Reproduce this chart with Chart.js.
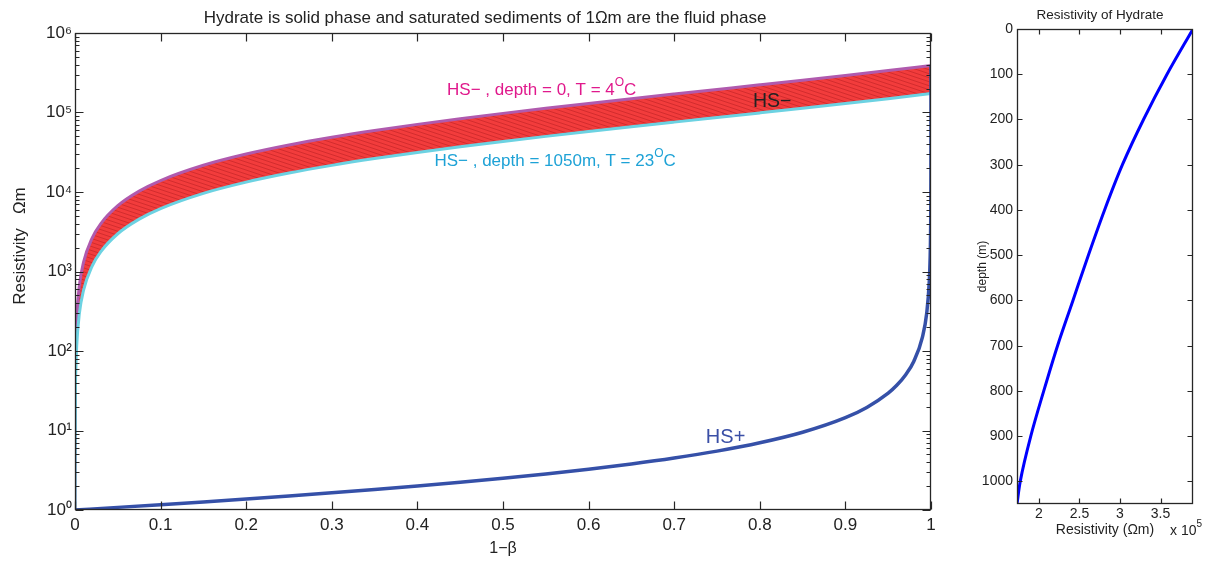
<!DOCTYPE html>
<html><head><meta charset="utf-8">
<script src="https://cdn.jsdelivr.net/npm/chart.js@4.4.1/dist/chart.umd.min.js"></script>
<style>
html,body{margin:0;padding:0;background:#fff;width:1211px;height:563px;overflow:hidden}
#w1{position:absolute;left:0;top:0;width:960px;height:563px}
#w2{position:absolute;left:960px;top:0;width:251px;height:563px}
</style></head><body>
<div id="w1"><canvas id="c1"></canvas></div>
<div id="w2"><canvas id="c2"></canvas></div>
<script>
// ---------------- data ----------------
const hydrateFraction = [0,0.0005,0.001,0.002,0.005,0.01,0.02,0.03,0.05,0.075,0.1,0.15,0.2,0.25,0.3,0.35,0.4,0.45,0.5,0.55,0.6,0.65,0.7,0.75,0.8,0.85,0.9,0.95,1];
const hsMinusSurface = [1,66,131,261,653,1310,2636,3981,6725,10264,13930,21668,30001,39001,48751,59349,70910,83573,97502,112896,130002,149119,170627,195002,222859,255002,292503,336821,390000];
const hsMinusDeep = [1,29.8,58.7,116.5,290.3,581.5,1170,1766,2984,4554,6180,9612,13309,17301,21626,26327,31456,37073,43252,50081,57668,66149,75689,86502,98859,113118,129753,149412,173000];
const hsPlusFraction = [0,0.05,0.1,0.15,0.2,0.25,0.3,0.35,0.4,0.45,0.5,0.55,0.6,0.65,0.7,0.75,0.8,0.85,0.9,0.925,0.95,0.96,0.97,0.98,0.99,0.995,0.998,0.999,0.9995,0.9999,0.99999,1];
const hsPlusValues = [1,1.079,1.167,1.265,1.375,1.5,1.643,1.808,2.0,2.227,2.5,2.833,3.25,3.786,4.5,5.5,7.0,9.5,14.5,19.5,29.5,37,49.5,74.5,149.5,299.5,749.5,1494,2977,14436,108300,390000];
const depthM = [0,100,200,300,400,500,600,700,800,900,1000,1050];
const hydrateResistivity = [390000,358000,329000,303000,281000,261000,242000,223000,206000,190000,177000,173000];

const yDecades = [1,10,100,1000,10000,100000,1000000];
const xTicksLeft = [0,0.1,0.2,0.3,0.4,0.5,0.6,0.7,0.8,0.9,1];
const depthTicks = [0,100,200,300,400,500,600,700,800,900,1000];
const resTicks = [200000,250000,300000,350000];

// ---------------- helpers ----------------
const FONT = "'Liberation Sans', Arial, Helvetica, sans-serif";
const SUP = ['⁰','¹','²','³','⁴','⁵','⁶','⁷','⁸','⁹'];
const AX = '#262626';

function pts(xs, ys){ return xs.map((x,i)=>({x:x, y:ys[i]})); }

function hatch(){
  const c = document.createElement('canvas');
  const W = 12, H = 4;
  c.width = W; c.height = H;
  const g = c.getContext('2d');
  g.fillStyle = '#f23c3c'; g.fillRect(0,0,W,H);
  g.strokeStyle = 'rgba(150,15,20,0.38)'; g.lineWidth = 0.9;
  for (let k=-3;k<=3;k++){
    g.beginPath(); g.moveTo(-W, -H + k*H); g.lineTo(2*W, 2*H + k*H); g.stroke();
  }
  return g.createPattern(c,'repeat');
}

function drawParts(ctx, x, y, parts, size, color, align){
  const big = size + 'px ' + FONT, small = Math.round(size*0.7) + 'px ' + FONT;
  let total = 0;
  parts.forEach(p=>{ ctx.font = p.sup ? small : big; p.w = ctx.measureText(p.t).width; total += p.w; });
  let cx = align === 'center' ? x - total/2 : x;
  ctx.fillStyle = color; ctx.textAlign = 'left'; ctx.textBaseline = 'alphabetic';
  parts.forEach(p=>{ ctx.font = p.sup ? small : big; ctx.fillText(p.t, cx, p.sup ? y - size*0.55 : y); cx += p.w; });
}

function isDecade(v){ const l = Math.log10(v); return Math.abs(l - Math.round(l)) < 1e-9; }

const frameTicks = {
  id: 'frameTicks',
  afterDraw(chart){
    const {ctx, chartArea: a} = chart;
    const xs = chart.scales.x, ys = chart.scales.y;
    const L = Math.round(a.left)+0.5, R = Math.round(a.right)-0.5, T = Math.round(a.top)+0.5, B = Math.round(a.bottom)-0.5;
    ctx.save();
    ctx.strokeStyle = AX; ctx.lineWidth = 1.2;
    ctx.beginPath();
    const big = chart.options.plugins.frameTicks.major, small = chart.options.plugins.frameTicks.minor;
    xs.ticks.forEach(t=>{
      const p = Math.round(xs.getPixelForValue(t.value))+0.5;
      ctx.moveTo(p, B); ctx.lineTo(p, B - big);
      ctx.moveTo(p, T); ctx.lineTo(p, T + big);
    });
    ys.ticks.forEach(t=>{
      const len = (ys.type === 'logarithmic' && !isDecade(t.value)) ? small : big;
      const p = Math.round(ys.getPixelForValue(t.value))+0.5;
      ctx.moveTo(L, p); ctx.lineTo(L + len, p);
      ctx.moveTo(R, p); ctx.lineTo(R - len, p);
    });
    ctx.stroke();
    ctx.lineWidth = 1.3;
    ctx.strokeRect(L, T, R - L, B - T);
    ctx.restore();
  }
};

// ---------------- left chart ----------------
const leftText = {
  id: 'leftText',
  afterDatasetsDraw(chart){
    const {ctx} = chart; const xs = chart.scales.x, ys = chart.scales.y;
    ctx.save();
    drawParts(ctx, xs.getPixelForValue(0.4346), ys.getPixelForValue(1.65e5),
      [{t:'HS− , depth = 0, T = 4'},{t:'O',sup:true},{t:'C'}], 17, '#e0198c', 'left');
    drawParts(ctx, xs.getPixelForValue(0.4199), ys.getPixelForValue(2.1e4),
      [{t:'HS− , depth = 1050m, T = 23'},{t:'O',sup:true},{t:'C'}], 17, '#1ea2d6', 'left');
    drawParts(ctx, xs.getPixelForValue(0.792), ys.getPixelForValue(1.17e5),
      [{t:'HS−'}], 19.5, '#222222', 'left');
    drawParts(ctx, xs.getPixelForValue(0.737), ys.getPixelForValue(7.0),
      [{t:'HS+'}], 20, '#3a4fa6', 'left');
    ctx.restore();
  },
  afterDraw(chart){
    const {ctx} = chart;
    ctx.save();
    ctx.fillStyle = '#222'; ctx.font = '17px ' + FONT; ctx.textAlign = 'center'; ctx.textBaseline = 'alphabetic';
    ctx.fillText('Hydrate is solid phase and saturated sediments of 1Ωm are the fluid phase', 485, 23);
    ctx.translate(20, 246); ctx.rotate(-Math.PI/2);
    ctx.font = '17px ' + FONT; ctx.textBaseline = 'middle';
    ctx.fillText('Resistivity   Ωm', 0, 0);
    ctx.restore();
  }
};

new Chart(document.getElementById('c1'), {
  type: 'line',
  data: {
    datasets: [
      { label: 'HS+', data: pts(hsPlusFraction, hsPlusValues), borderColor: '#3550a8', borderWidth: 3.5,
        pointRadius: 0, fill: false, cubicInterpolationMode: 'monotone' },
      { label: 'HS− depth 1050 m', data: pts(hydrateFraction, hsMinusDeep), borderColor: '#6cd2e2', borderWidth: 3,
        pointRadius: 0, fill: false, cubicInterpolationMode: 'monotone' },
      { label: 'HS− depth 0', data: pts(hydrateFraction, hsMinusSurface), borderColor: '#b05aae', borderWidth: 3,
        pointRadius: 0, fill: 1, backgroundColor: hatch(), cubicInterpolationMode: 'monotone' }
    ]
  },
  options: {
    responsive: true, maintainAspectRatio: false, animation: false,
    layout: { padding: { top: 33, right: 29, left: 0, bottom: 0 } },
    plugins: { legend: { display: false }, tooltip: { enabled: false }, frameTicks: { major: 8, minor: 4 } },
    scales: {
      x: {
        type: 'linear', min: 0, max: 1,
        grid: { display: false, drawTicks: false }, border: { display: false },
        afterBuildTicks: s => { s.ticks = xTicksLeft.map(v => ({ value: v })); },
        afterFit: s => { s.height = 53; },
        ticks: { autoSkip: false, maxRotation: 0, padding: 5, color: '#222', font: { family: FONT, size: 17 },
                 callback: v => String(v) },
        title: { display: true, text: '1−β', color: '#222', font: { family: FONT, size: 16 }, padding: { top: 0, bottom: 5 } }
      },
      y: {
        type: 'logarithmic', min: 1, max: 1000000,
        grid: { display: false, drawTicks: false }, border: { display: false },
        afterBuildTicks: s => {
          const t = [];
          yDecades.forEach((d, i) => {
            if (i === yDecades.length - 1) { t.push({ value: d }); return; }
            for (let k = 1; k <= 9; k++) t.push({ value: d * k });
          });
          s.ticks = t;
        },
        afterFit: s => { s.width = 75; },
        ticks: { autoSkip: false, padding: 3, color: '#222', font: { family: FONT, size: 17 },
                 callback: v => isDecade(v) ? '10' + SUP[Math.round(Math.log10(v))] : '' }
      }
    }
  },
  plugins: [leftText, frameTicks]
});

// ---------------- right chart ----------------
const rightText = {
  id: 'rightText',
  afterDraw(chart){
    const {ctx} = chart;
    ctx.save();
    ctx.fillStyle = '#222'; ctx.font = '13.5px ' + FONT; ctx.textAlign = 'center'; ctx.textBaseline = 'middle';
    ctx.fillText('Resistivity of Hydrate', 140, 15);
    drawParts(ctx, 210, 535, [{t:'x 10'},{t:'5',sup:true}], 14, '#222', 'left');
    ctx.restore();
  }
};

new Chart(document.getElementById('c2'), {
  type: 'line',
  data: {
    datasets: [
      { label: 'Resistivity of Hydrate', data: pts(hydrateResistivity, depthM), borderColor: '#0000ff', borderWidth: 3,
        pointRadius: 0, fill: false, cubicInterpolationMode: 'monotone', indexAxis: 'y' }
    ]
  },
  options: {
    responsive: true, maintainAspectRatio: false, animation: false,
    layout: { padding: { top: 29, right: 18, left: 0, bottom: 0 } },
    plugins: { legend: { display: false }, tooltip: { enabled: false }, frameTicks: { major: 5, minor: 3 } },
    scales: {
      x: {
        type: 'linear', min: 173000, max: 390000,
        grid: { display: false, drawTicks: false }, border: { display: false },
        afterBuildTicks: s => { s.ticks = resTicks.map(v => ({ value: v })); },
        afterFit: s => { s.height = 59; },
        ticks: { autoSkip: false, maxRotation: 0, padding: 2, color: '#222', font: { family: FONT, size: 14 },
                 callback: v => String(v / 100000) },
        title: { display: true, text: 'Resistivity (Ωm)', color: '#222', font: { family: FONT, size: 14 }, padding: { top: 0, bottom: 24 } }
      },
      y: {
        type: 'linear', min: 0, max: 1050, reverse: true,
        grid: { display: false, drawTicks: false }, border: { display: false },
        afterBuildTicks: s => { s.ticks = depthTicks.map(v => ({ value: v })); },
        afterFit: s => { s.width = 57; },
        ticks: { autoSkip: false, padding: 4, color: '#222', font: { family: FONT, size: 14 }, callback: v => String(v) },
        title: { display: true, text: 'depth (m)', color: '#222', font: { family: FONT, size: 12 }, padding: { top: 15, bottom: 0 } }
      }
    }
  },
  plugins: [rightText, frameTicks]
});
</script>
</body></html>
